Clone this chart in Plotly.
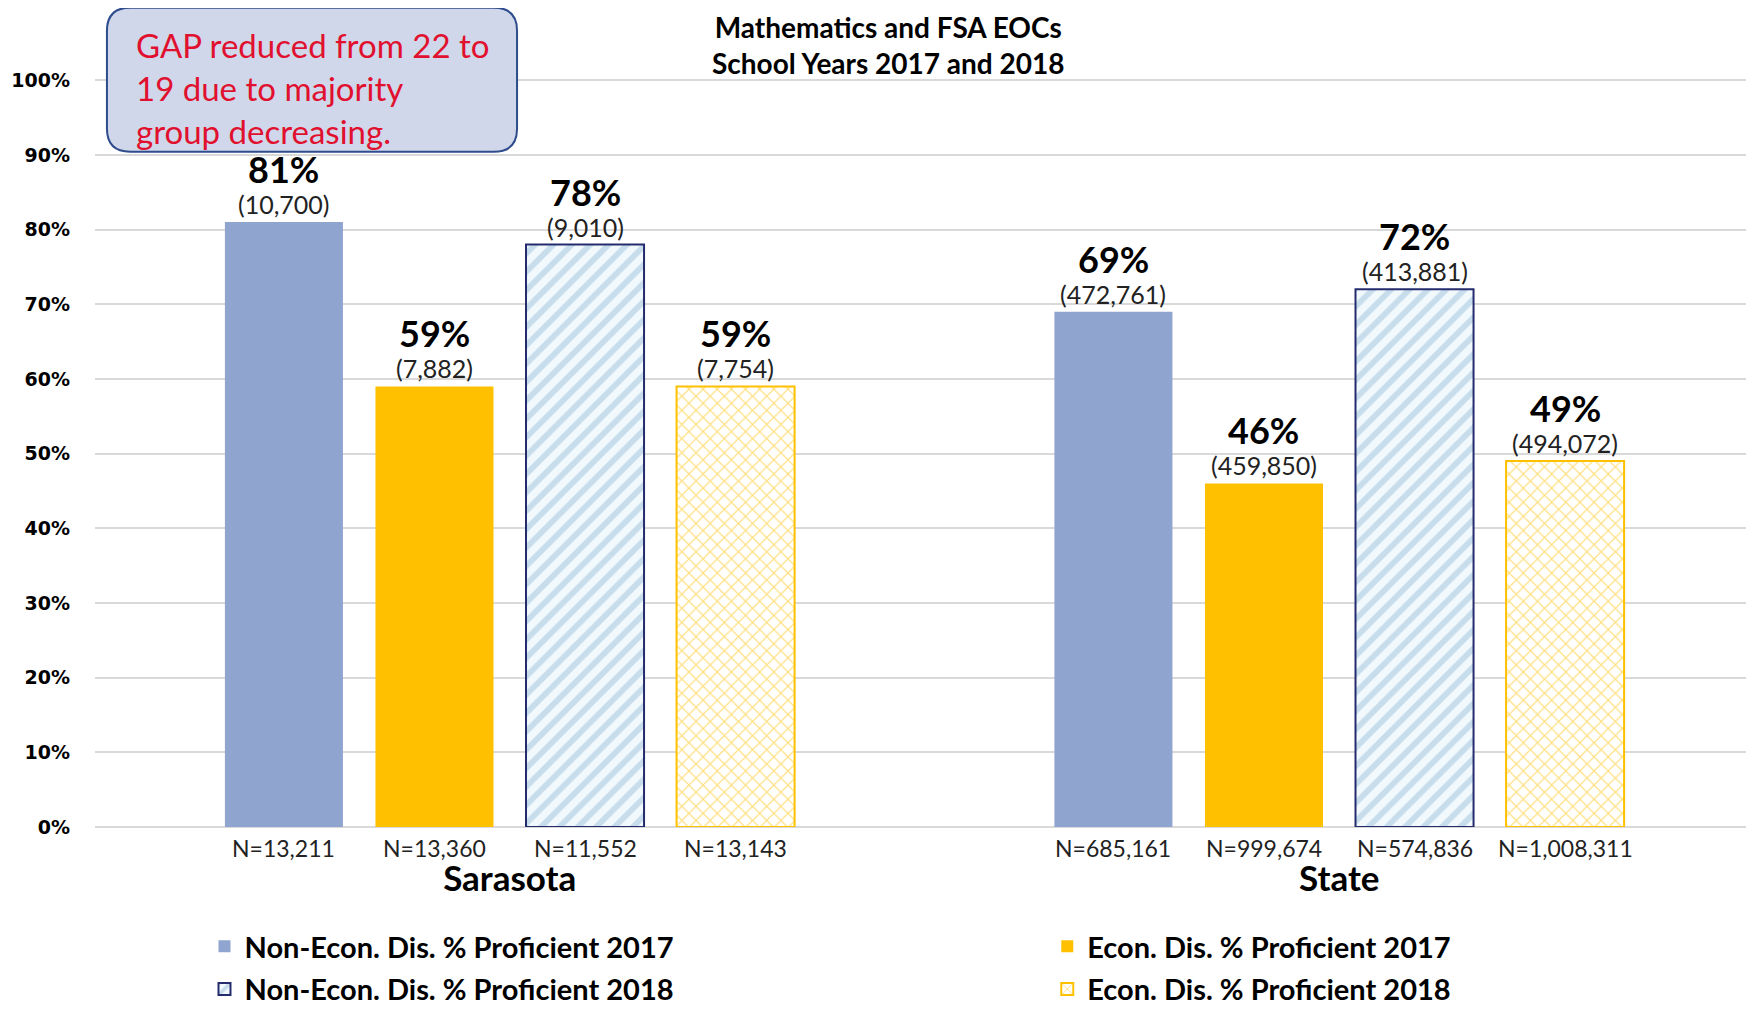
import plotly.graph_objects as go

groups = ["Sarasota", "State"]
series = ["Non-Econ. Dis. % Proficient 2017", "Econ. Dis. % Proficient 2017",
          "Non-Econ. Dis. % Proficient 2018", "Econ. Dis. % Proficient 2018"]
pct_nonecon_2017 = [81, 69]
pct_econ_2017 = [59, 46]
pct_nonecon_2018 = [78, 72]
pct_econ_2018 = [59, 49]
cnt_nonecon_2017 = ["(10,700)", "(472,761)"]
cnt_econ_2017 = ["(7,882)", "(459,850)"]
cnt_nonecon_2018 = ["(9,010)", "(413,881)"]
cnt_econ_2018 = ["(7,754)", "(494,072)"]
n_nonecon_2017 = ["N=13,211", "N=685,161"]
n_econ_2017 = ["N=13,360", "N=999,674"]
n_nonecon_2018 = ["N=11,552", "N=574,836"]
n_econ_2018 = ["N=13,143", "N=1,008,311"]
y_ticks = [0, 10, 20, 30, 40, 50, 60, 70, 80, 90, 100]

values = [pct_nonecon_2017, pct_econ_2017, pct_nonecon_2018, pct_econ_2018]
counts = [cnt_nonecon_2017, cnt_econ_2017, cnt_nonecon_2018, cnt_econ_2018]
ns = [n_nonecon_2017, n_econ_2017, n_nonecon_2018, n_econ_2018]

FONT = "Lato, Open Sans, sans-serif"
BLUE = "#8FA5D0"
GOLD = "#FFC000"

markers = [
    dict(color=BLUE, line=dict(width=0)),
    dict(color=GOLD, line=dict(width=0)),
    dict(color="#F2F9FD", line=dict(color="#252C6E", width=2),
         pattern=dict(shape="/", fgcolor="#9BC2DC", bgcolor="#F2F9FD", size=13, solidity=0.45)),
    dict(color="white", line=dict(color=GOLD, width=2),
         pattern=dict(shape="x", fgcolor=GOLD, bgcolor="white", size=10, solidity=0.22)),
]
legend_ids = ["legend", "legend2", "legend3", "legend4"]
legend_pos = [(0.066, -0.1935), (0.574, -0.1935), (0.066, -0.2505), (0.574, -0.2505)]

fig = go.Figure()
for i in range(4):
    fig.add_trace(go.Bar(x=groups, y=values[i], name="<b>%s</b>" % series[i], marker=markers[i],
                         legend=legend_ids[i], cliponaxis=False))

bargap = 0.274
slot = (1 - bargap) / 4
annotations = []
for i in range(4):
    for g in range(2):
        xc = g - (1 - bargap) / 2 + slot * (i + 0.5)
        annotations.append(dict(x=xc, y=values[i][g], xref="x", yref="y", text="<b>%d%%</b>" % values[i][g],
                                showarrow=False, yshift=53, yanchor="middle",
                                font=dict(family=FONT, size=36, color="black")))
        annotations.append(dict(x=xc, y=values[i][g], xref="x", yref="y", text=counts[i][g],
                                showarrow=False, yshift=18, yanchor="middle",
                                font=dict(family=FONT, size=25, color="#222")))
        annotations.append(dict(x=xc, y=0, xref="x", yref="y", text=ns[i][g],
                                showarrow=False, yshift=-21, yanchor="middle",
                                font=dict(family=FONT, size=23, color="#222")))

annotations.append(dict(x=0.478, y=1.044, xref="paper", yref="paper", showarrow=False,
                        text="<b>Mathematics and FSA EOCs<br>School Years 2017 and 2018</b>",
                        align="center", yanchor="middle",
                        font=dict(family=FONT, size=28, color="black")))
annotations.append(dict(x=0.0235, y=0.986, xref="paper", yref="paper", showarrow=False,
                        text="GAP reduced from 22 to<br>19 due to majority<br>group decreasing.",
                        align="left", xanchor="left", yanchor="middle",
                        font=dict(family=FONT, size=33, color="#E0102E")))

x0, x1, y0, y1 = 0.0072, 0.2544, 0.9015, 1.0939
rx, ry = 0.014, 0.031
path = (f"M{x0+rx},{y0} L{x1-rx},{y0} Q{x1},{y0} {x1},{y0+ry} L{x1},{y1-ry} Q{x1},{y1} {x1-rx},{y1} "
        f"L{x0+rx},{y1} Q{x0},{y1} {x0},{y1-ry} L{x0},{y0+ry} Q{x0},{y0} {x0+rx},{y0} Z")

layout_legends = {}
for lid, (lx, ly) in zip(legend_ids, legend_pos):
    layout_legends[lid] = dict(orientation="h", x=lx, y=ly, xanchor="left", yanchor="bottom",
                               bgcolor="rgba(0,0,0,0)",
                               font=dict(family=FONT, size=29, color="black"))

fig.update_layout(
    width=1746, height=1007,
    margin=dict(l=87, r=0, t=70, b=188.4),
    paper_bgcolor="white", plot_bgcolor="white",
    barmode="group", bargap=bargap, bargroupgap=0.216,
    annotations=annotations,
    shapes=[dict(type="path", xref="paper", yref="paper", path=path,
                 fillcolor="#D0D7EA", line=dict(color="#2F4C8C", width=2), layer="above")],
    showlegend=True,
    **layout_legends,
)
fig.update_xaxes(showgrid=False, ticks="", showline=False, ticklabelstandoff=28, automargin=False,
                 tickfont=dict(family=FONT, size=35, color="black"),
                 tickprefix="<b>", ticksuffix="</b>")
fig.update_yaxes(range=[0, 100.3], tickvals=y_ticks, ticktext=["<b>%d%%</b>" % v for v in y_ticks],
                 showgrid=True, gridcolor="#D9D9D9", gridwidth=2, automargin=False,
                 zeroline=True, zerolinecolor="#D9D9D9", zerolinewidth=2,
                 ticklabelstandoff=24,
                 tickfont=dict(family="DejaVu Sans", size=19, color="black"))

fig.write_html("out.html")
